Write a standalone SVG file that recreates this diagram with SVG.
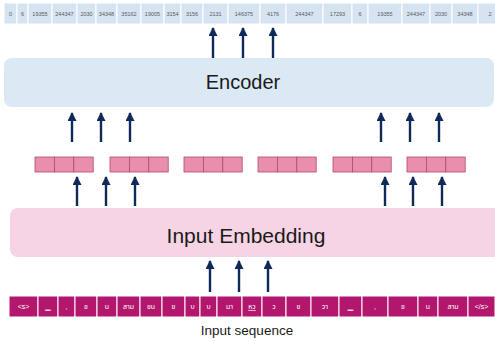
<svg xmlns="http://www.w3.org/2000/svg" width="495" height="341" viewBox="0 0 495 341">
  <style>
    .id-cell { fill: #d6e4f2; stroke: #ffffff; stroke-width: 1; }
    .id-txt { font-family: "Liberation Sans", Arial, sans-serif; font-size: 5.5px; fill: #5a5a5a; text-anchor: middle; }
    .tok-cell { fill: #b3176d; stroke: #ffffff; stroke-width: 1; }
    .tok-txt { font-family: "Liberation Sans", "Noto Sans Thai", "DejaVu Sans", sans-serif; font-size: 7px; fill: #ffffff; text-anchor: middle; }
    .vec { fill: #e88fae; stroke: #b8476f; stroke-width: 0.8; }
    .title { font-family: "Liberation Sans", Arial, sans-serif; fill: #1a1a1a; text-anchor: middle; }
    .arrow { stroke: #0f2a5a; stroke-width: 2.4; fill: none; marker-end: url(#head); }
  </style>
  <defs>
    <marker id="head" markerUnits="userSpaceOnUse" markerWidth="9" markerHeight="9" refX="8" refY="4.5" orient="auto">
      <path d="M0,0 L9,4.5 L0,9 z" fill="#0f2a5a"/>
    </marker>
  </defs>

  <!-- output token ids -->
  <g id="token-ids">
    <rect class="id-cell" x="4" y="3" width="13" height="21"/><text class="id-txt" x="10.5" y="15.5">0</text>
    <rect class="id-cell" x="17" y="3" width="11" height="21"/><text class="id-txt" x="22.5" y="15.5">6</text>
    <rect class="id-cell" x="28" y="3" width="24" height="21"/><text class="id-txt" x="40" y="15.5">19355</text>
    <rect class="id-cell" x="52" y="3" width="25" height="21"/><text class="id-txt" x="64.5" y="15.5">244347</text>
    <rect class="id-cell" x="77" y="3" width="19" height="21"/><text class="id-txt" x="86.5" y="15.5">2030</text>
    <rect class="id-cell" x="96" y="3" width="21" height="21"/><text class="id-txt" x="106.5" y="15.5">34348</text>
    <rect class="id-cell" x="117" y="3" width="24" height="21"/><text class="id-txt" x="129" y="15.5">35162</text>
    <rect class="id-cell" x="141" y="3" width="23" height="21"/><text class="id-txt" x="152.5" y="15.5">19005</text>
    <rect class="id-cell" x="164" y="3" width="17" height="21"/><text class="id-txt" x="172.5" y="15.5">3154</text>
    <rect class="id-cell" x="181" y="3" width="22" height="21"/><text class="id-txt" x="192" y="15.5">3156</text>
    <rect class="id-cell" x="203" y="3" width="25" height="21"/><text class="id-txt" x="215.5" y="15.5">2131</text>
    <rect class="id-cell" x="228" y="3" width="32" height="21"/><text class="id-txt" x="244" y="15.5">146375</text>
    <rect class="id-cell" x="260" y="3" width="26" height="21"/><text class="id-txt" x="273" y="15.5">4176</text>
    <rect class="id-cell" x="286" y="3" width="37" height="21"/><text class="id-txt" x="304.5" y="15.5">244347</text>
    <rect class="id-cell" x="323" y="3" width="29" height="21"/><text class="id-txt" x="337.5" y="15.5">17293</text>
    <rect class="id-cell" x="352" y="3" width="16" height="21"/><text class="id-txt" x="360" y="15.5">6</text>
    <rect class="id-cell" x="368" y="3" width="34" height="21"/><text class="id-txt" x="385" y="15.5">19355</text>
    <rect class="id-cell" x="402" y="3" width="28" height="21"/><text class="id-txt" x="416" y="15.5">244347</text>
    <rect class="id-cell" x="430" y="3" width="22" height="21"/><text class="id-txt" x="441" y="15.5">2030</text>
    <rect class="id-cell" x="452" y="3" width="26" height="21"/><text class="id-txt" x="465" y="15.5">34348</text>
    <rect class="id-cell" x="478" y="3" width="22" height="21"/><text class="id-txt" x="490" y="15.5">2</text>
  </g>

  <!-- encoder block -->
  <g id="encoder">
    <rect x="4" y="58" width="490" height="49" rx="8" fill="#dbe9f5"/>
    <text class="title" x="243" y="89" font-size="20">Encoder</text>
  </g>

  <!-- embedding vectors -->
  <g id="vectors">
    <g id="vec1"><rect class="vec" x="35" y="157" width="19.4" height="15"/><rect class="vec" x="54.4" y="157" width="19.4" height="15"/><rect class="vec" x="73.8" y="157" width="19.4" height="15"/></g>
    <g id="vec2"><rect class="vec" x="110" y="157" width="19.4" height="15"/><rect class="vec" x="129.4" y="157" width="19.4" height="15"/><rect class="vec" x="148.8" y="157" width="19.4" height="15"/></g>
    <g id="vec3"><rect class="vec" x="184" y="157" width="19.4" height="15"/><rect class="vec" x="203.4" y="157" width="19.4" height="15"/><rect class="vec" x="222.8" y="157" width="19.4" height="15"/></g>
    <g id="vec4"><rect class="vec" x="258" y="157" width="19.4" height="15"/><rect class="vec" x="277.4" y="157" width="19.4" height="15"/><rect class="vec" x="296.8" y="157" width="19.4" height="15"/></g>
    <g id="vec5"><rect class="vec" x="333" y="157" width="19.4" height="15"/><rect class="vec" x="352.4" y="157" width="19.4" height="15"/><rect class="vec" x="371.8" y="157" width="19.4" height="15"/></g>
    <g id="vec6"><rect class="vec" x="407" y="157" width="19.4" height="15"/><rect class="vec" x="426.4" y="157" width="19.4" height="15"/><rect class="vec" x="445.8" y="157" width="19.4" height="15"/></g>
  </g>

  <!-- input embedding block -->
  <g id="input-embedding">
    <rect x="10" y="208" width="495" height="49" rx="8" fill="#f7d4e4"/>
    <text class="title" x="246" y="243" font-size="21">Input Embedding</text>
  </g>

  <!-- input tokens -->
  <g id="input-tokens">
    <rect class="tok-cell" x="9" y="296" width="29" height="21"/><text class="tok-txt" x="23.5" y="309">&lt;s&gt;</text>
    <rect class="tok-cell" x="38" y="296" width="20" height="21"/><text class="tok-txt" x="48" y="309">▁</text>
    <rect class="tok-cell" x="58" y="296" width="17" height="21"/><text class="tok-txt" x="66.5" y="309">,</text>
    <rect class="tok-cell" x="75" y="296" width="22" height="21"/><text class="tok-txt" x="86" y="309">ข</text>
    <rect class="tok-cell" x="97" y="296" width="20" height="21"/><text class="tok-txt" x="107" y="309">น</text>
    <rect class="tok-cell" x="117" y="296" width="23" height="21"/><text class="tok-txt" x="128.5" y="309">สาม</text>
    <rect class="tok-cell" x="140" y="296" width="22" height="21"/><text class="tok-txt" x="151" y="309">ขน</text>
    <rect class="tok-cell" x="162" y="296" width="23" height="21"/><text class="tok-txt" x="173.5" y="309">ข</text>
    <rect class="tok-cell" x="185" y="296" width="15" height="21"/><text class="tok-txt" x="192.5" y="309">บ</text>
    <rect class="tok-cell" x="200" y="296" width="17" height="21"/><text class="tok-txt" x="208.5" y="309">บ</text>
    <rect class="tok-cell" x="217" y="296" width="25" height="21"/><text class="tok-txt" x="229.5" y="309">มา</text>
    <rect class="tok-cell" x="242" y="296" width="20" height="21"/><text class="tok-txt" x="252" y="309" text-decoration="underline">หว</text>
    <rect class="tok-cell" x="262" y="296" width="24" height="21"/><text class="tok-txt" x="274" y="309">ว</text>
    <rect class="tok-cell" x="286" y="296" width="25" height="21"/><text class="tok-txt" x="298.5" y="309">ข</text>
    <rect class="tok-cell" x="311" y="296" width="28" height="21"/><text class="tok-txt" x="325" y="309">วา</text>
    <rect class="tok-cell" x="339" y="296" width="23" height="21"/><text class="tok-txt" x="350.5" y="309">▁</text>
    <rect class="tok-cell" x="362" y="296" width="26" height="21"/><text class="tok-txt" x="375" y="309">,</text>
    <rect class="tok-cell" x="388" y="296" width="30" height="21"/><text class="tok-txt" x="403" y="309">ข</text>
    <rect class="tok-cell" x="418" y="296" width="20" height="21"/><text class="tok-txt" x="428" y="309">น</text>
    <rect class="tok-cell" x="438" y="296" width="30" height="21"/><text class="tok-txt" x="453" y="309">สาม</text>
    <rect class="tok-cell" x="468" y="296" width="27" height="21"/><text class="tok-txt" x="481.5" y="309">&lt;/s&gt;</text>
  </g>

  <g id="caption">
    <text class="title" x="247" y="335" font-size="13.5">Input sequence</text>
  </g>

  <!-- connectors -->
  <g id="connectors">
    <line class="arrow" x1="213" y1="58" x2="213" y2="28"/>
    <line class="arrow" x1="243" y1="58" x2="243" y2="28"/>
    <line class="arrow" x1="273" y1="58" x2="273" y2="28"/>

    <line class="arrow" x1="72" y1="142" x2="72" y2="113"/>
    <line class="arrow" x1="101" y1="142" x2="101" y2="113"/>
    <line class="arrow" x1="130" y1="142" x2="130" y2="113"/>
    <line class="arrow" x1="381" y1="142" x2="381" y2="113"/>
    <line class="arrow" x1="410" y1="142" x2="410" y2="113"/>
    <line class="arrow" x1="439" y1="142" x2="439" y2="113"/>

    <line class="arrow" x1="77" y1="206" x2="77" y2="177"/>
    <line class="arrow" x1="106" y1="206" x2="106" y2="177"/>
    <line class="arrow" x1="135" y1="206" x2="135" y2="177"/>
    <line class="arrow" x1="385" y1="206" x2="385" y2="177"/>
    <line class="arrow" x1="413" y1="206" x2="413" y2="177"/>
    <line class="arrow" x1="442" y1="206" x2="442" y2="177"/>

    <line class="arrow" x1="210" y1="292" x2="210" y2="261"/>
    <line class="arrow" x1="239" y1="292" x2="239" y2="261"/>
    <line class="arrow" x1="268" y1="292" x2="268" y2="261"/>
  </g>
</svg>
